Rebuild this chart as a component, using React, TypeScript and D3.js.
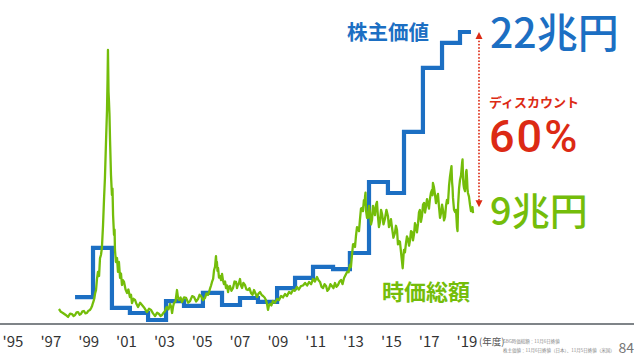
import React from "react";
import * as d3 from "d3";

// x-axis tick years (fiscal years)
const tickYears = [1995, 1997, 1999, 2001, 2003, 2005, 2007, 2009, 2011, 2013, 2015, 2017, 2019];

// 株主価値 (shareholder value), trillion yen – step starts (year) and values
const blueYears = [1998.28, 1999.23, 2000.23, 2001.18, 2002.14, 2003.09, 2004.04, 2005.04, 2006.05, 2007.0, 2007.95, 2008.96, 2009.91, 2010.86, 2011.92, 2012.81, 2013.82, 2014.82, 2015.67, 2016.67, 2017.68, 2018.63, 2019.21];
const blueValues = [2.03, 5.73, 1.21, 0.83, 0.3, 1.73, 1.36, 2.34, 1.43, 1.96, 1.66, 2.71, 3.47, 4.3, 4.14, 5.35, 10.7, 9.87, 14.47, 19.29, 21.18, 22.0, 22.0];

// 時価総額 (market cap), trillion yen
const greenYears = [
  1997.43, 1997.53, 1997.64, 1997.77, 1997.91, 1998.02, 1998.12, 1998.2, 1998.28, 1998.36,
  1998.44, 1998.52, 1998.59, 1998.67, 1998.75, 1998.83, 1998.91, 1998.99, 1999.07, 1999.13,
  1999.18, 1999.23, 1999.28, 1999.34, 1999.39, 1999.44, 1999.49, 1999.55, 1999.6, 1999.65,
  1999.7, 1999.76, 1999.81, 1999.86, 1999.92, 1999.97, 2000.0, 2000.02, 2000.05, 2000.07,
  2000.1, 2000.13, 2000.18, 2000.23, 2000.26, 2000.29, 2000.34, 2000.37, 2000.39, 2000.44,
  2000.5, 2000.55, 2000.6, 2000.66, 2000.71, 2000.76, 2000.81, 2000.87, 2000.95, 2001.03,
  2001.1, 2001.18, 2001.24, 2001.29, 2001.37, 2001.45, 2001.53, 2001.61, 2001.72, 2001.82,
  2001.95, 2002.08, 2002.19, 2002.3, 2002.4, 2002.51, 2002.62, 2002.72, 2002.8, 2002.88,
  2002.96, 2003.04, 2003.09, 2003.14, 2003.22, 2003.3, 2003.36, 2003.41, 2003.46, 2003.51,
  2003.59, 2003.67, 2003.72, 2003.78, 2003.86, 2003.93, 2004.04, 2004.15, 2004.26, 2004.36,
  2004.47, 2004.57, 2004.68, 2004.78, 2004.86, 2004.94, 2005.05, 2005.15, 2005.23, 2005.31,
  2005.36, 2005.41, 2005.47, 2005.52, 2005.58, 2005.63, 2005.68, 2005.73, 2005.76, 2005.78,
  2005.81, 2005.84, 2005.89, 2005.94, 2006.0, 2006.05, 2006.1, 2006.15, 2006.21, 2006.26,
  2006.32, 2006.37, 2006.42, 2006.47, 2006.55, 2006.63, 2006.71, 2006.79, 2006.84, 2006.89,
  2006.95, 2007.0, 2007.05, 2007.11, 2007.18, 2007.26, 2007.34, 2007.42, 2007.5, 2007.58,
  2007.66, 2007.74, 2007.82, 2007.9, 2007.98, 2008.06, 2008.14, 2008.22, 2008.3, 2008.37,
  2008.43, 2008.48, 2008.53, 2008.59, 2008.66, 2008.74, 2008.85, 2008.96, 2009.06, 2009.17,
  2009.27, 2009.38, 2009.48, 2009.59, 2009.7, 2009.8, 2009.9, 2010.01, 2010.11, 2010.22,
  2010.33, 2010.44, 2010.55, 2010.65, 2010.76, 2010.86, 2010.96, 2011.07, 2011.15, 2011.23,
  2011.31, 2011.39, 2011.47, 2011.55, 2011.62, 2011.7, 2011.78, 2011.86, 2011.94, 2012.02,
  2012.1, 2012.18, 2012.26, 2012.34, 2012.42, 2012.5, 2012.58, 2012.66, 2012.74, 2012.81,
  2012.865, 2012.92, 2012.975, 2013.03, 2013.08, 2013.13, 2013.185, 2013.24, 2013.29, 2013.34,
  2013.395, 2013.45, 2013.5, 2013.55, 2013.58, 2013.61, 2013.635, 2013.66, 2013.715, 2013.77,
  2013.82, 2013.87, 2013.925, 2013.98, 2014.03, 2014.08, 2014.135, 2014.19, 2014.24, 2014.29,
  2014.345, 2014.4, 2014.455, 2014.51, 2014.585, 2014.66, 2014.74, 2014.82, 2014.875, 2014.93,
  2014.98, 2015.03, 2015.11, 2015.19, 2015.245, 2015.3, 2015.35, 2015.4, 2015.455, 2015.51,
  2015.565, 2015.6, 2015.62, 2015.645, 2015.67, 2015.72, 2015.77, 2015.825, 2015.88, 2015.935,
  2015.99, 2016.04, 2016.09, 2016.145, 2016.2, 2016.25, 2016.3, 2016.355, 2016.41, 2016.46,
  2016.51, 2016.565, 2016.62, 2016.675, 2016.73, 2016.78, 2016.83, 2016.885, 2016.94, 2016.99,
  2017.04, 2017.095, 2017.15, 2017.175, 2017.2, 2017.255, 2017.31, 2017.36, 2017.41, 2017.465,
  2017.52, 2017.575, 2017.63, 2017.68, 2017.73, 2017.785, 2017.84, 2017.89, 2017.94, 2017.995,
  2018.05, 2018.1, 2018.15, 2018.18, 2018.21, 2018.235, 2018.26, 2018.315, 2018.37, 2018.42,
  2018.47, 2018.5, 2018.53, 2018.58, 2018.63, 2018.685, 2018.74, 2018.765, 2018.79, 2018.815,
  2018.84, 2018.895, 2018.95, 2018.975, 2019.0, 2019.025, 2019.05, 2019.105, 2019.16, 2019.21,
  2019.26, 2019.29, 2019.32,
];
const greenValues = [
  1.13, 0.92, 0.83, 0.7, 0.53, 0.78, 0.75, 0.6, 0.68, 0.88,
  0.9, 0.7, 0.75, 0.95, 0.98, 0.8, 0.83, 1.0, 1.06, 1.2,
  1.36, 1.6, 1.81, 2.3, 2.56, 3.4, 3.92, 3.62, 4.97, 5.2,
  5.73, 7.46, 9.34, 11.0, 13.87, 16.13, 18.5, 20.65, 17.5, 16.88,
  15.8, 13.87, 11.23, 9.72, 10.2, 8.21, 6.71, 7.1, 5.58, 4.67,
  4.97, 3.92, 4.67, 3.47, 3.8, 2.94, 3.3, 3.17, 2.6, 2.34,
  2.6, 2.03, 2.2, 1.58, 1.9, 1.81, 1.5, 1.28, 1.6, 1.43,
  1.2, 0.9, 1.15, 1.06, 0.8, 0.6, 0.85, 0.75, 0.6, 0.68,
  0.85, 0.98, 1.2, 1.28, 1.1, 1.51, 1.3, 0.83, 1.3, 1.58,
  1.7, 2.56, 2.0, 1.81, 2.0, 1.66, 2.0, 1.96, 1.6, 1.73,
  2.1, 2.03, 1.7, 1.88, 2.2, 2.11, 1.8, 1.96, 2.3, 2.19,
  2.4, 2.64, 2.9, 3.17, 3.4, 4.07, 4.3, 5.12, 4.4, 4.67,
  4.0, 4.22, 3.5, 3.62, 3.3, 3.77, 3.3, 3.01, 3.2, 2.71,
  2.9, 2.41, 2.8, 2.86, 2.5, 2.71, 3.2, 3.17, 2.7, 2.94,
  3.1, 3.39, 2.9, 2.71, 3.1, 2.94, 2.6, 2.56, 2.7, 2.34,
  2.2, 2.56, 2.3, 2.03, 2.3, 2.41, 2.2, 2.11, 2.0, 1.81,
  1.5, 1.06, 1.4, 1.51, 1.4, 1.73, 1.6, 1.88, 1.8, 2.11,
  2.0, 2.26, 2.1, 2.41, 2.3, 2.56, 2.5, 2.79, 2.6, 2.86,
  2.9, 3.09, 2.9, 3.17, 3.0, 3.39, 3.2, 3.54, 3.3, 3.17,
  2.8, 2.71, 3.0, 2.86, 2.5, 2.64, 3.0, 2.86, 2.7, 3.09,
  2.8, 2.94, 3.2, 3.32, 3.0, 3.47, 3.7, 3.92, 3.9, 4.45,
  4.3, 5.2, 6.0, 6.03, 5.8, 6.63, 7.3, 7.23, 7.0, 7.84,
  8.7, 8.74, 8.5, 9.34, 9.0, 9.57, 9.9, 8.59, 8.0, 7.99,
  8.9, 8.44, 7.5, 7.84, 8.9, 8.59, 8.2, 8.97, 9.2, 8.14,
  7.3, 7.69, 8.6, 8.29, 7.5, 7.91, 8.6, 8.14, 7.3, 7.54,
  7.9, 7.31, 6.5, 6.86, 7.4, 7.08, 6.0, 6.25, 6.2, 5.43,
  4.7, 4.2, 4.6, 5.2, 5.58, 5.4, 6.03, 6.6, 6.41, 5.9,
  6.33, 7.0, 6.93, 6.3, 6.78, 7.6, 7.39, 6.9, 7.54, 8.4,
  8.59, 7.7, 8.14, 9.0, 9.12, 8.4, 8.82, 9.4, 9.04, 8.7,
  9.42, 9.9, 10.1, 9.7, 10.63, 10.3, 9.72, 9.1, 9.5, 9.8,
  8.82, 8.0, 8.36, 9.0, 8.59, 7.8, 8.06, 8.9, 9.34, 9.1,
  10.4, 11.1, 11.6, 11.9, 10.7, 10.3, 9.5, 8.6, 8.44, 8.6,
  7.31, 7.0, 8.97, 10.2, 10.85, 11.2, 12.13, 12.4, 11.0, 10.5,
  10.25, 10.0, 11.45, 11.6, 11.0, 10.2, 9.87, 9.6, 8.97, 8.5,
  8.52, 8.8, 8.36,
];

const W = 634;
const H = 356;
const BLUE = "#1c6fc3";
const GREEN = "#74bd0a";
const RED = "#dc2a14";
const FONT = "'Noto Sans CJK JP', 'Noto Sans', sans-serif";

export default function App() {
  const x = d3.scaleLinear().domain([1995, 2019]).range([13, 467]);
  const y = d3.scaleLinear().domain([0, 22]).range([324, 32]);

  const bluePts: [number, number][] = blueYears.map((t, i) => [x(t), y(blueValues[i])]);
  const greenPts: [number, number][] = greenYears.map((t, i) => [x(t), y(greenValues[i])]);

  const stepLine = d3.line().curve(d3.curveStepAfter);
  const plainLine = d3.line();

  const arrowX = 479;
  const arrowTop = y(22);
  const arrowBottom = y(8.8);

  return (
    <svg
      width={W}
      height={H}
      style={{ position: "absolute", left: 0, top: 0, background: "#fff" }}
      fontFamily={FONT}
    >
      {/* axis baseline */}
      <line x1={0} x2={W} y1={324} y2={324} stroke="#555b60" strokeWidth={1.6} />
      {tickYears.map((t) => (
        <text key={t} x={x(t)} y={347} textAnchor="middle" fontSize={15} fill="#333">
          {"'" + String(t).slice(2)}
        </text>
      ))}
      <text x={479} y={345} fontSize={9.5} fill="#555">(年度)</text>

      {/* series */}
      <path d={stepLine(bluePts) || ""} fill="none" stroke={BLUE} strokeWidth={4.2} strokeLinejoin="miter" strokeLinecap="butt" />
      <path d={plainLine(greenPts) || ""} fill="none" stroke={GREEN} strokeWidth={2.3} strokeLinejoin="round" />

      {/* discount arrow */}
      <line
        x1={arrowX}
        x2={arrowX}
        y1={arrowTop + 6}
        y2={arrowBottom - 6}
        stroke={RED}
        strokeWidth={1.8}
        strokeDasharray="0.1 3.2"
        strokeLinecap="round"
      />
      <path d={`M${arrowX},${arrowTop} l-3.5,7 l7,0 z`} fill={RED} />
      <path d={`M${arrowX},${arrowBottom} l-3.5,-7 l7,0 z`} fill={RED} />

      {/* labels */}
      <text x={347} y={40} fontSize={20.5} fontWeight={700} fill={BLUE}>株主価値</text>
      <text x={490} y={48} fontSize={41} fontWeight={500} fill={BLUE}>22兆円</text>
      <text x={489} y={107} fontSize={13} fontWeight={700} fill={RED}>ディスカウント</text>
      <text x={489} y={152} fontSize={45} fontWeight={500} fontFamily="Roboto, 'Noto Sans', sans-serif" letterSpacing={2} fill={RED}>60%</text>
      <text x={490} y={225} fontSize={38} fontWeight={500} fill={GREEN}>9兆円</text>
      <text x={382} y={300} fontSize={22} fontWeight={700} fill={GREEN}>時価総額</text>

      {/* footnote */}
      <text x={503} y={343} fontSize={4.5} fill="#888">SBG時価総額：11月6日終値</text>
      <text x={503} y={352} fontSize={4.5} fill="#888">株主価値：11月6日終値（日本）、11月5日終値（米国）</text>
      <text x={634} y={353} textAnchor="end" fontSize={14} fill="#777">84</text>
    </svg>
  );
}
